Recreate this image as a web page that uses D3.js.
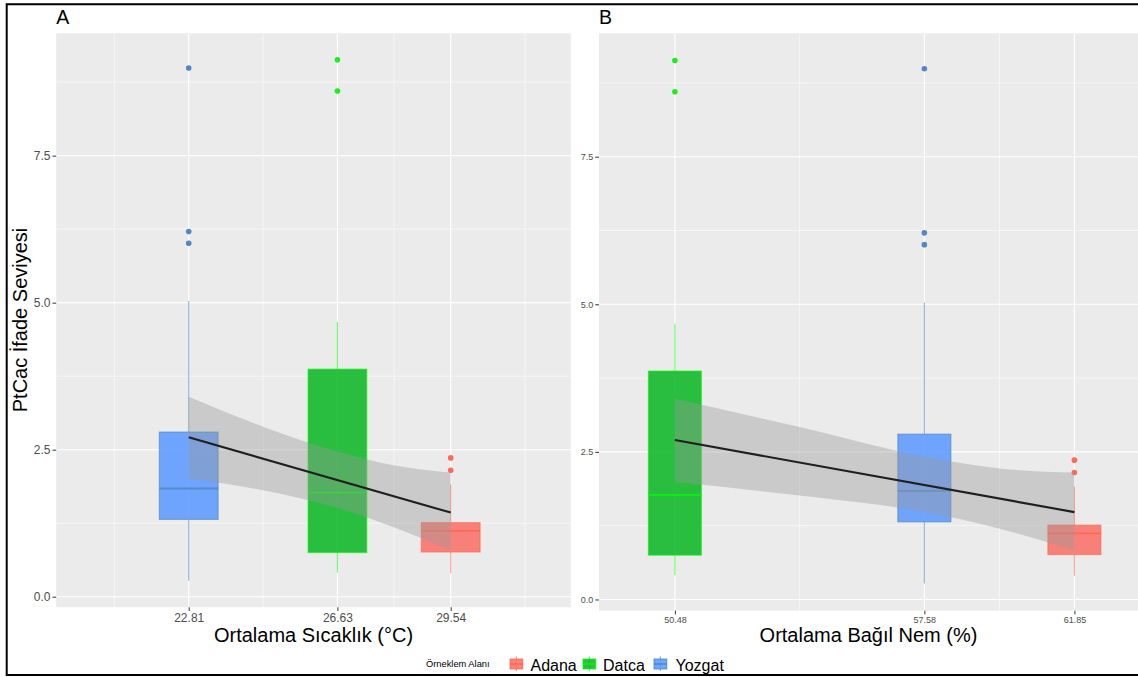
<!DOCTYPE html>
<html>
<head>
<meta charset="utf-8">
<script src="https://cdn.jsdelivr.net/npm/d3@7"></script>
<style>
  html, body { margin: 0; padding: 0; background: #fff; }
  svg { display: block; font-family: "Liberation Sans", Arial, Helvetica, sans-serif; }
</style>
</head>
<body>
<svg id="chart" width="1138" height="677"></svg>
<script>
// ---- data -------------------------------------------------------------
const sites = ["Adana", "Datca", "Yozgat"];
const meanTemp = [29.54, 26.63, 22.81];      // °C
const meanHumidity = [61.85, 50.48, 57.58];  // %

const whiskerLow  = [0.40, 0.41, 0.27];
const q1          = [0.76, 0.75, 1.315];
const median      = [1.12, 1.77, 1.84];
const q3          = [1.26, 3.87, 2.80];
const whiskerHigh = [1.91, 4.67, 5.03];
const outliers    = [[2.15, 2.36], [8.60, 9.13], [6.01, 6.21, 8.99]];

// fitted line (ends) and its confidence band, temperature panel
const fitTempX = [22.81, 29.54];
const fitTempY = [2.71, 1.43];
const bandTempX    = [22.81, 24.72, 26.63, 28.04, 29.54];
const bandTempLow  = [2.01, 1.81, 1.51, 1.19, 0.79];
const bandTempHigh = [3.40, 2.89, 2.47, 2.24, 2.11];

// fitted line and band, humidity panel
const fitHumX = [50.48, 61.85];
const fitHumY = [2.70, 1.48];
const bandHumX    = [50.48, 54.03, 57.58, 59.72, 61.85];
const bandHumLow  = [1.99, 1.76, 1.48, 1.20, 0.83];
const bandHumHigh = [3.40, 2.92, 2.42, 2.22, 2.15];

const yTicks = [0, 2.5, 5, 7.5];
const yMinor = [1.25, 3.75, 6.25, 8.75];
const tempTicks = [22.81, 26.63, 29.54];
const humTicks = [50.48, 57.58, 61.85];

const legendTitle = "Örneklem Alanı";
const fills   = ["#F8766D", "#14B92D", "#619CFF"];
const strokes = ["tomato", "#00ff00", "steelblue"];
const pointCols = ["#ff6a55", "#1eee1e", "#4f88c2"];

// ---- drawing ----------------------------------------------------------
const svg = d3.select("#chart");

function minorBreaks(b) {
  const d = b[1] - b[0];
  const ext = [b[0] - d, ...b, b[b.length - 1] + d];
  const out = [];
  for (let i = 0; i < ext.length - 1; i++) out.push((ext[i] + ext[i + 1]) / 2);
  return out;
}

function panel(opt) {
  const { xs, xDomain, xRange, yDomain, yRange, ticks, fitX, fitY,
          bandX, bandLow, bandHigh, tickFont, letter, title } = opt;
  const x = d3.scaleLinear().domain(xDomain).range(xRange);
  const y = d3.scaleLinear().domain(yDomain).range(yRange);
  const g = svg.append("g");

  const [x0, x1] = xRange, [yb, yt] = yRange;
  g.append("rect").attr("x", x0).attr("y", yt)
    .attr("width", x1 - x0).attr("height", yb - yt).attr("fill", "#ebebeb");

  const clip = "clip-" + letter;
  svg.append("clipPath").attr("id", clip).append("rect")
    .attr("x", x0).attr("y", yt).attr("width", x1 - x0).attr("height", yb - yt);
  const grid = g.append("g").attr("clip-path", `url(#${clip})`);

  grid.selectAll(".hmin").data(yMinor).join("line")
    .attr("x1", x0).attr("x2", x1).attr("y1", d => y(d)).attr("y2", d => y(d))
    .attr("stroke", "#fff").attr("stroke-width", 0.55);
  grid.selectAll(".vmin").data(minorBreaks(ticks)).join("line")
    .attr("y1", yt).attr("y2", yb).attr("x1", d => x(d)).attr("x2", d => x(d))
    .attr("stroke", "#fff").attr("stroke-width", 0.55);
  grid.selectAll(".hmaj").data(yTicks).join("line")
    .attr("x1", x0).attr("x2", x1).attr("y1", d => y(d)).attr("y2", d => y(d))
    .attr("stroke", "#fff").attr("stroke-width", 1.1);
  grid.selectAll(".vmaj").data(ticks).join("line")
    .attr("y1", yt).attr("y2", yb).attr("x1", d => x(d)).attr("x2", d => x(d))
    .attr("stroke", "#fff").attr("stroke-width", 1.1);

  // axes
  const yAxis = d3.axisLeft(y).tickValues(yTicks).tickFormat(d3.format(".1f"))
    .tickSize(3.7).tickPadding(2);
  const ya = g.append("g").attr("transform", `translate(${x0},0)`).call(yAxis);
  const xAxis = d3.axisBottom(x).tickValues(ticks).tickFormat(d3.format(".2f"))
    .tickSize(3.7).tickPadding(2);
  const xa = g.append("g").attr("transform", `translate(0,${yb})`).call(xAxis);
  [ya, xa].forEach(a => {
    a.select(".domain").remove();
    a.selectAll(".tick line").attr("stroke", "#333").attr("stroke-width", 1);
    a.selectAll(".tick text").attr("fill", "#4d4d4d")
      .attr("font-size", tickFont).attr("font-family", "Liberation Sans, Arial, sans-serif");
  });

  // boxplots
  const bw = 1.51;
  const plot = g.append("g").attr("clip-path", `url(#${clip})`);
  sites.forEach((s, i) => {
    const cx = x(xs[i]);
    const left = x(xs[i] - bw / 2), right = x(xs[i] + bw / 2);
    const b = plot.append("g");
    b.append("line").attr("x1", cx).attr("x2", cx)
      .attr("y1", y(whiskerHigh[i])).attr("y2", y(q3[i]))
      .attr("stroke", strokes[i]).attr("stroke-opacity", 0.6).attr("stroke-width", 1.1);
    b.append("line").attr("x1", cx).attr("x2", cx)
      .attr("y1", y(q1[i])).attr("y2", y(whiskerLow[i]))
      .attr("stroke", strokes[i]).attr("stroke-opacity", 0.6).attr("stroke-width", 1.1);
    b.append("rect").attr("x", left).attr("width", right - left)
      .attr("y", y(q3[i])).attr("height", y(q1[i]) - y(q3[i]))
      .attr("fill", fills[i]).attr("fill-opacity", 0.9)
      .attr("stroke", strokes[i]).attr("stroke-opacity", 0.6).attr("stroke-width", 1.1);
    b.append("line").attr("x1", left).attr("x2", right)
      .attr("y1", y(median[i])).attr("y2", y(median[i]))
      .attr("stroke", strokes[i]).attr("stroke-opacity", 0.7).attr("stroke-width", 1.8);
    b.selectAll("circle").data(outliers[i]).join("circle")
      .attr("cx", cx).attr("cy", d => y(d)).attr("r", 2.8).attr("fill", pointCols[i]);
  });

  // confidence band and fitted line
  const bandData = bandX.map((v, i) => ({ x: v, lo: bandLow[i], hi: bandHigh[i] }));
  plot.append("path").datum(bandData)
    .attr("d", d3.area().x(d => x(d.x)).y0(d => y(d.lo)).y1(d => y(d.hi))
      .curve(d3.curveMonotoneX))
    .attr("fill", "#999999").attr("fill-opacity", 0.4);
  plot.append("path").datum(fitX.map((v, i) => [v, fitY[i]]))
    .attr("d", d3.line().x(d => x(d[0])).y(d => y(d[1])))
    .attr("stroke", "#1f1f1f").attr("stroke-width", 2.1).attr("fill", "none");

  // panel letter and axis title
  svg.append("text").attr("x", x0).attr("y", 24).text(letter)
    .attr("font-size", 19.5).attr("fill", "#000");
  svg.append("text").attr("x", (x0 + x1) / 2).attr("y", 642)
    .attr("text-anchor", "middle").attr("font-size", 20).attr("fill", "#000").text(title);
}

panel({
  xs: meanTemp, xDomain: [19.406, 32.625], xRange: [56.2, 570.8],
  yDomain: [-0.18, 9.58], yRange: [607.3, 33.3], ticks: tempTicks,
  fitX: fitTempX, fitY: fitTempY,
  bandX: bandTempX, bandLow: bandTempLow, bandHigh: bandTempHigh,
  tickFont: 12, letter: "A", title: "Ortalama Sıcaklık (°C)"
});
panel({
  xs: meanHumidity, xDomain: [48.32, 63.66], xRange: [599, 1138],
  yDomain: [-0.19, 9.59], yRange: [610.7, 33.3], ticks: humTicks,
  fitX: fitHumX, fitY: fitHumY,
  bandX: bandHumX, bandLow: bandHumLow, bandHigh: bandHumHigh,
  tickFont: 9, letter: "B", title: "Ortalama Bağıl Nem (%)"
});

// shared y-axis title
svg.append("text").attr("transform", "translate(27,320) rotate(-90)")
  .attr("text-anchor", "middle").attr("font-size", 20).attr("fill", "#000")
  .text("PtCac İfade Seviyesi");

// legend
const leg = svg.append("g");
leg.append("text").attr("x", 426).attr("y", 667).attr("font-size", 9.3)
  .attr("fill", "#000").text(legendTitle);
const keyX = [510, 583, 654];
const labX = [530.5, 603, 675.5];
sites.forEach((s, i) => {
  const k = leg.append("g");
  const cx = keyX[i] + 6.4;
  k.append("line").attr("x1", cx).attr("x2", cx).attr("y1", 656.5).attr("y2", 671)
    .attr("stroke", strokes[i]).attr("stroke-opacity", 0.7).attr("stroke-width", 1.1);
  k.append("rect").attr("x", keyX[i]).attr("y", 659).attr("width", 12.8).attr("height", 10)
    .attr("fill", fills[i]).attr("fill-opacity", 0.9)
    .attr("stroke", strokes[i]).attr("stroke-opacity", 0.7).attr("stroke-width", 1.1);
  k.append("line").attr("x1", keyX[i]).attr("x2", keyX[i] + 12.8).attr("y1", 664).attr("y2", 664)
    .attr("stroke", strokes[i]).attr("stroke-opacity", 0.8).attr("stroke-width", 1.5);
  leg.append("text").attr("x", labX[i]).attr("y", 670.5).attr("font-size", 16)
    .attr("fill", "#000").text(s);
});

// frame
svg.append("path").attr("d", "M1140,4.3 H6.7 V675 H1140")
  .attr("fill", "none").attr("stroke", "#000").attr("stroke-width", 2);
</script>
</body>
</html>
